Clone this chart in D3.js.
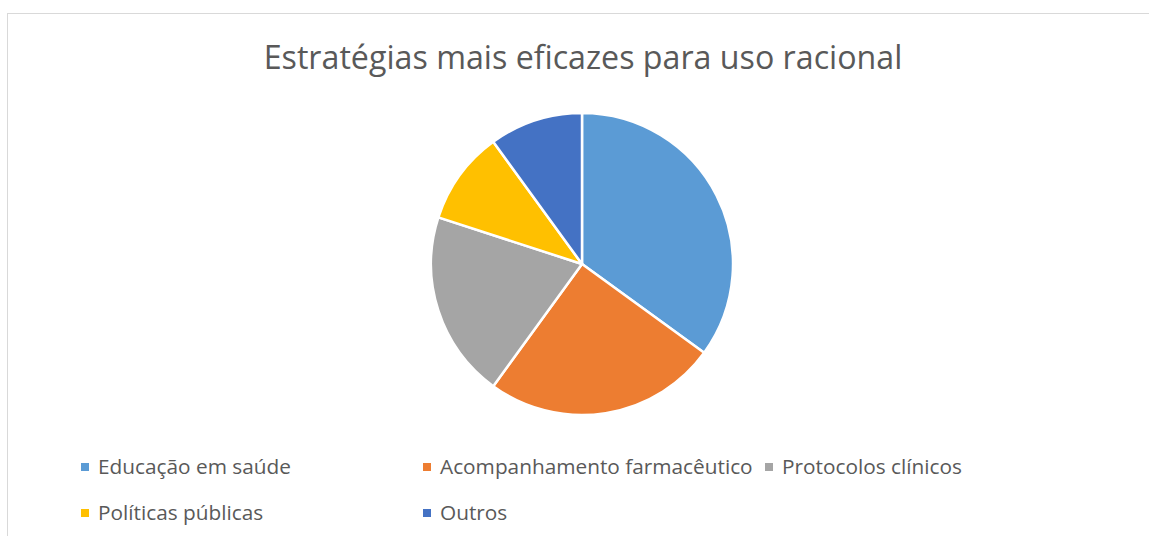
<!DOCTYPE html>
<html><head><meta charset="utf-8">
<script src="https://cdn.jsdelivr.net/npm/d3@7"></script>
<style>body{margin:0;background:#fff;} svg{display:block;font-family:"Open Sans",sans-serif;}</style>
</head><body>
<svg id="chart" width="1149" height="536"></svg>
<script>
const title = "Estratégias mais eficazes para uso racional";
const categories = ["Educação em saúde","Acompanhamento farmacêutico","Protocolos clínicos","Políticas públicas","Outros"];
const values = [35,25,20,10,10];
const colors = ["#5B9BD5","#ED7D31","#A5A5A5","#FFC000","#4472C4"];

const svg = d3.select("#chart");
svg.append("rect").attr("x",7.5).attr("y",13.5).attr("width",1160).attr("height",560)
  .attr("fill","#fff").attr("stroke","#d9d9d9").attr("stroke-width",1);

svg.append("text").attr("x",583).attr("y",69).attr("text-anchor","middle")
  .attr("fill","#595959").attr("font-size",32.2).text(title);

const cx=582, cy=264, r=151;
const pie = d3.pie().sort(null).value(d=>d);
const arc = d3.arc().innerRadius(0).outerRadius(r);
const color = d3.scaleOrdinal().domain(categories).range(colors);
svg.append("g").attr("transform",`translate(${cx},${cy})`)
  .selectAll("path").data(pie(values)).join("path")
  .attr("d",arc).attr("fill",(d,i)=>color(categories[i]))
  .attr("stroke","#fff").attr("stroke-width",2.5).attr("stroke-linejoin","round");

const legendX = [81,423,765,81,423];
const legendY = [467,467,467,513,513];
const lg = svg.append("g");
categories.forEach((c,i)=>{
  lg.append("rect").attr("x",legendX[i]).attr("y",legendY[i]-4).attr("width",8).attr("height",8).attr("fill",color(c));
  lg.append("text").attr("x",legendX[i]+17).attr("y",legendY[i]+7).attr("fill","#595959").attr("font-size",20.8).text(c);
});
</script>
</body></html>
